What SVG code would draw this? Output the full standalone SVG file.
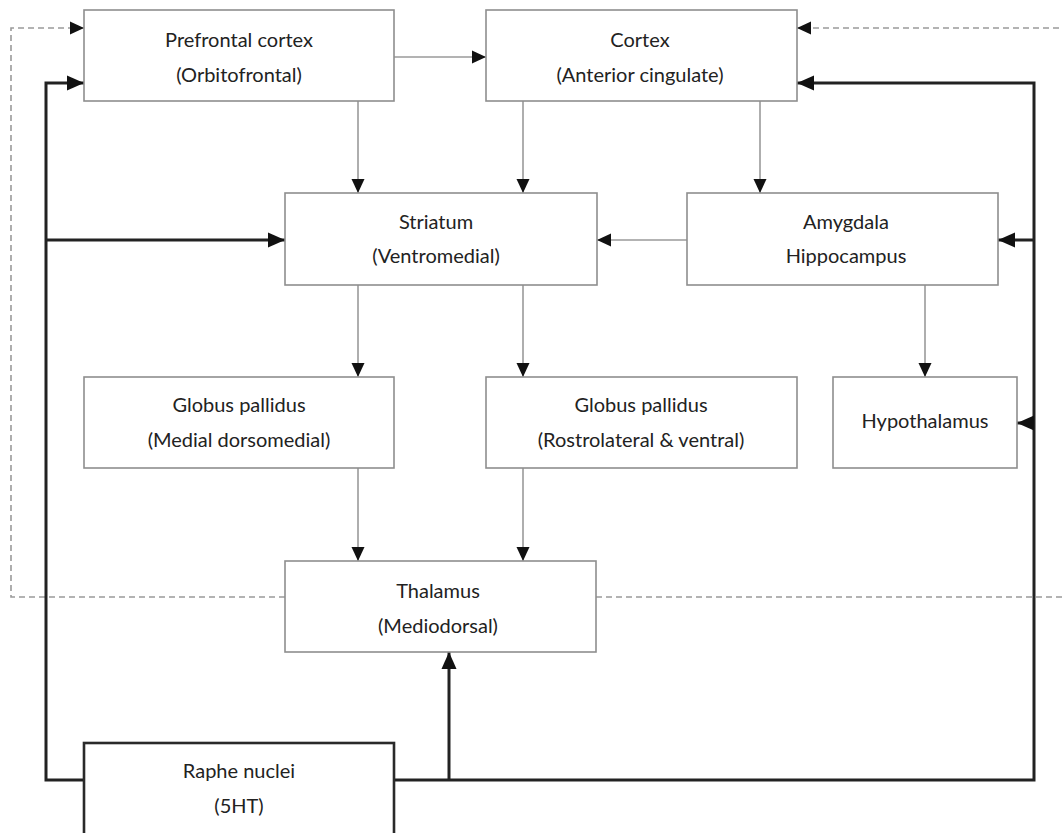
<svg xmlns="http://www.w3.org/2000/svg" width="1063" height="833" viewBox="0 0 1063 833">
<style>
.box{fill:#fff;stroke:#8e8e8e;stroke-width:1.6}
.raphe{fill:#fff;stroke:#2a2a2a;stroke-width:2.6}
.t{font-family:Lato,"Open Sans","Liberation Sans",sans-serif;font-size:20px;fill:#222;text-anchor:middle}
.thin{fill:none;stroke:#9a9a9a;stroke-width:1.6}
.dash{fill:none;stroke:#9a9a9a;stroke-width:1.6;stroke-dasharray:6 4}
.thick{fill:none;stroke:#222;stroke-width:3}
</style>
<defs>
<marker id="a" markerUnits="userSpaceOnUse" markerWidth="14" markerHeight="14" viewBox="0 0 14 14" refX="14" refY="7" orient="auto">
<path d="M0,0.5 L14,7 L0,13.5 Z" fill="#111"/>
</marker>
<marker id="ab" markerUnits="userSpaceOnUse" markerWidth="17" markerHeight="16" viewBox="0 0 17 16" refX="17" refY="8" orient="auto">
<path d="M0,0.5 L17,8 L0,15.5 Z" fill="#111"/>
</marker>
</defs>
<rect width="1063" height="833" fill="#fff"/>
<g id="connectors">
<path class="dash" d="M285,597 H11 V28 H84" marker-end="url(#a)"/>
<path class="dash" d="M596,597 H1068 V28 H797" marker-end="url(#a)"/>
<path class="thin" d="M394,57 H486" marker-end="url(#a)"/>
<path class="thin" d="M358,101 V193" marker-end="url(#a)"/>
<path class="thin" d="M523,101 V193" marker-end="url(#a)"/>
<path class="thin" d="M760,101 V193" marker-end="url(#a)"/>
<path class="thin" d="M687,240 H597" marker-end="url(#a)"/>
<path class="thin" d="M358,285 V377" marker-end="url(#a)"/>
<path class="thin" d="M523,285 V377" marker-end="url(#a)"/>
<path class="thin" d="M925,285 V377" marker-end="url(#a)"/>
<path class="thin" d="M358,468 V561" marker-end="url(#a)"/>
<path class="thin" d="M523,468 V561" marker-end="url(#a)"/>
<path class="thick" d="M84,780 H46 V83 H84" marker-end="url(#ab)"/>
<path class="thick" d="M46,240 H285" marker-end="url(#ab)"/>
<path class="thick" d="M394,780 H1034 V83 H797" marker-end="url(#ab)"/>
<path class="thick" d="M1034,240 H998" marker-end="url(#ab)"/>
<path class="thick" d="M1034,423 H1017" marker-end="url(#ab)"/>
<path class="thick" d="M449,780 V652" marker-end="url(#ab)"/>
</g>
<g id="prefrontal">
<rect class="box" x="84" y="10" width="310" height="91"/>
<text class="t" x="239" y="47">Prefrontal cortex</text>
<text class="t" x="239" y="82">(Orbitofrontal)</text>
</g>
<g id="cortex">
<rect class="box" x="486" y="10" width="311" height="91"/>
<text class="t" x="640" y="47">Cortex</text>
<text class="t" x="640" y="82">(Anterior cingulate)</text>
</g>
<g id="striatum">
<rect class="box" x="285" y="193" width="312" height="92"/>
<text class="t" x="436" y="229">Striatum</text>
<text class="t" x="436" y="263">(Ventromedial)</text>
</g>
<g id="amygdala">
<rect class="box" x="687" y="193" width="311" height="92"/>
<text class="t" x="846" y="229">Amygdala</text>
<text class="t" x="846" y="263">Hippocampus</text>
</g>
<g id="gp-medial">
<rect class="box" x="84" y="377" width="310" height="91"/>
<text class="t" x="239" y="412">Globus pallidus</text>
<text class="t" x="239" y="447">(Medial dorsomedial)</text>
</g>
<g id="gp-rostro">
<rect class="box" x="486" y="377" width="311" height="91"/>
<text class="t" x="641" y="412">Globus pallidus</text>
<text class="t" x="641" y="447">(Rostrolateral &amp; ventral)</text>
</g>
<g id="hypothalamus">
<rect class="box" x="833" y="377" width="184" height="91"/>
<text class="t" x="925" y="428">Hypothalamus</text>
</g>
<g id="thalamus">
<rect class="box" x="285" y="561" width="311" height="91"/>
<text class="t" x="438" y="598">Thalamus</text>
<text class="t" x="438" y="633">(Mediodorsal)</text>
</g>
<g id="raphe">
<rect class="raphe" x="84" y="743" width="310" height="110"/>
<text class="t" x="239" y="778">Raphe nuclei</text>
<text class="t" x="239" y="813">(5HT)</text>
</g>
</svg>
